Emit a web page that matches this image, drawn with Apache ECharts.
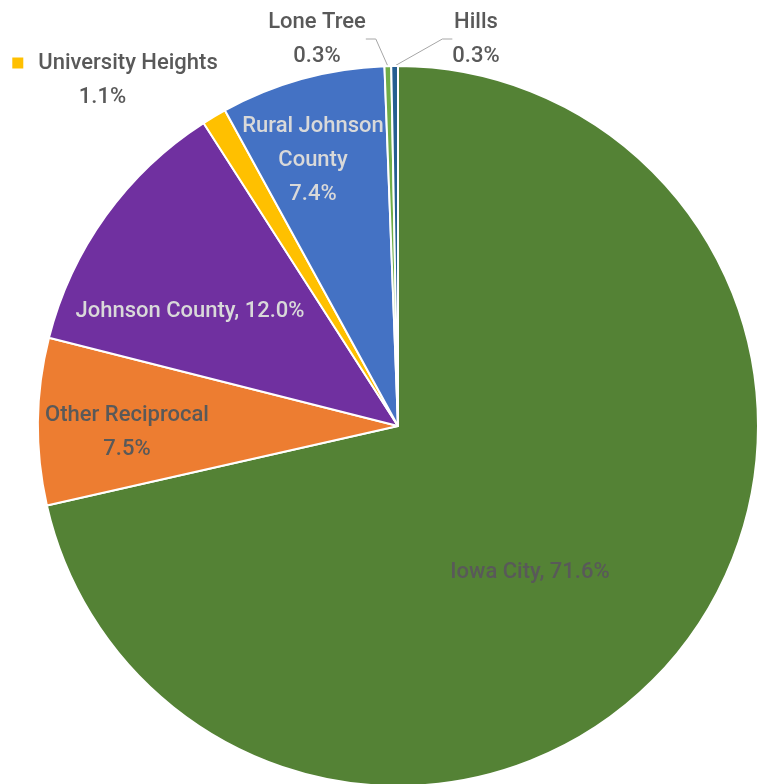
<!DOCTYPE html>
<html>
<head>
<meta charset="utf-8">
<script src="https://cdn.jsdelivr.net/npm/echarts@6/dist/echarts.min.js"></script>
<style>html,body{margin:0;padding:0;background:#fff}#c{width:760px;height:784px}</style>
</head>
<body>
<div id="c"></div>
<script>
const categories = ['Iowa City', 'Other Reciprocal', 'Johnson County', 'University Heights', 'Rural Johnson County', 'Lone Tree', 'Hills'];
const values = [71.6, 7.5, 12.0, 1.1, 7.4, 0.3, 0.3];

const colors = ['#548235', '#ED7D31', '#7030A0', '#FFC000', '#4472C4', '#70AD47', '#255E91'];
const FONT = 'Roboto, "Noto Sans", sans-serif';
const DARK = '#595959', LIGHT = '#D9D9D9';
// label anchor positions (label styling only)
const labelPos = [[530, 572], [127, 432], [190, 311], [115, 80], [313, 160], [317, 39], [476, 39]];
const labelColor = [DARK, DARK, LIGHT, DARK, LIGHT, DARK, DARK];

function fmt(i) {
  const v = values[i].toFixed(1) + '%';
  switch (i) {
    case 0: case 2: return categories[i] + ', ' + v;
    case 3: return '{sq|}{gap|}' + categories[i] + '\n' + v + '{pad|}';
    case 4: return 'Rural Johnson\nCounty\n' + v;
    default: return categories[i] + '\n' + v;
  }
}

const data = categories.map((name, i) => ({
  name: name,
  value: values[i],
  itemStyle: { color: colors[i] },
  label: {
    position: (i >= 5) ? 'outside' : 'inside',
    color: labelColor[i]
  },
  labelLine: { show: i >= 5, lineStyle: { color: '#A6A6A6', width: 1 } }
}));

const chart = echarts.init(document.getElementById('c'), null, { renderer: 'canvas' });
chart.setOption({
  animation: false,
  series: [{
    type: 'pie',
    center: [398, 426],
    radius: [0, 360],
    startAngle: 90,
    clockwise: true,
    avoidLabelOverlap: false,
    itemStyle: { borderColor: '#fff', borderWidth: 2 },
    label: {
      show: true,
      fontFamily: FONT,
      fontSize: 22,
      fontWeight: 500,
      lineHeight: 34,
      align: 'center',
      formatter: p => fmt(p.dataIndex),
      rich: {
        sq: { width: 11, height: 11, backgroundColor: '#FFC000' },
        gap: { width: 15 },
        pad: { width: 25 }
      }
    },
    labelLine: { length: 10, length2: 10 },
    labelLayout: p => ({
      x: labelPos[p.dataIndex][0],
      y: labelPos[p.dataIndex][1],
      align: 'center',
      verticalAlign: 'middle'
    }),
    data: data
  }]
});
</script>
</body>
</html>
